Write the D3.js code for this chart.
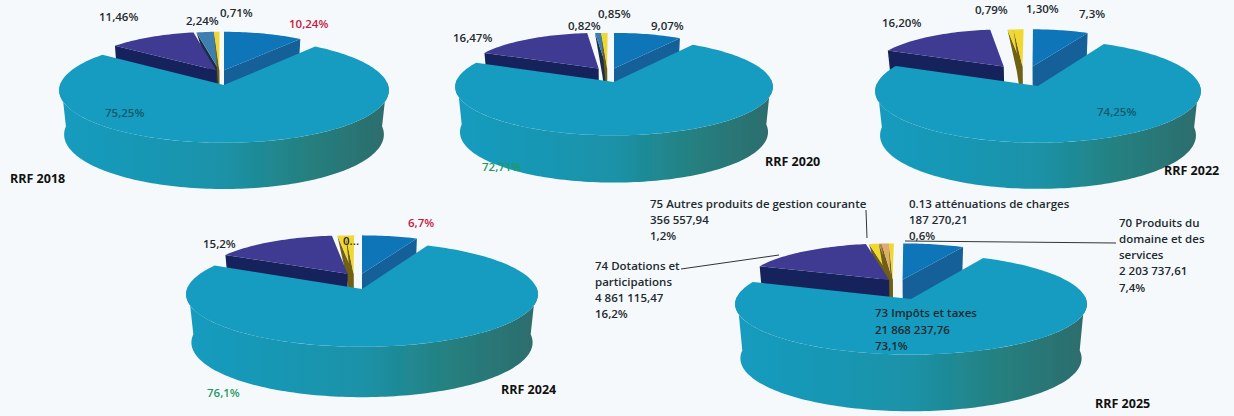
<!DOCTYPE html>
<html><head><meta charset="utf-8">
<script src="https://cdn.jsdelivr.net/npm/d3@7"></script>
<style>
html,body{margin:0;padding:0;background:#f6f9fb}
svg{display:block}
text{font-family:"Open Sans","Noto Sans",sans-serif;font-size:11.5px;font-weight:600;fill:#1d2a30}
.name{font-weight:700;font-size:12.5px;fill:#111}
</style></head><body>
<svg id="c" width="1234" height="416"></svg>
<script>
const years = ["RRF 2018","RRF 2020","RRF 2022","RRF 2024","RRF 2025"];
const values2018 = [10.24,75.25,11.46,2.24,0.71];
const values2020 = [9.07,72.71,16.47,0.82,0.85];
const values2022 = [7.3,74.25,16.20,0.79,1.30];
const values2024 = [6.7,76.1,15.2,1.0,1.0];
const values2025 = [7.4,73.1,16.2,1.2,0.3,0.9,0.6];
const colors2018 = ["blue","main","purple","steel","yellow"];
const colors2020 = ["blue","main","purple","steel","yellow"];
const colors2022 = ["blue","main","purple","yellow","yellow"];
const colors2024 = ["blue","main","purple","yellow","yellow"];
const colors2025 = ["blue","main","purple","yellow","rose","tan","yellow"];
const labels2018 = ["10,24%","75,25%","11,46%","2,24%","0,71%"];
const labels2020 = ["9,07%","72,71%","16,47%","0,82%","0,85%"];
const labels2022 = ["7,3%","74,25%","16,20%","0,79%","1,30%"];
const labels2024 = ["6,7%","76,1%","15,2%","0..."];
const palette = {
  blue:["#0f74b8","#13609a"], main:["#189cc0","#189cc0"], purple:["#3f3a92","#14225c"],
  steel:["#3d80b0","#1b2f45"], yellow:["#f0d733","#6f6116"], rose:["#b9806f","#6f6116"], tan:["#dcae6a","#6f6116"]
};
const pies = [
 {name:0,v:values2018,c:colors2018,cx:224,cy:85,rx:164,ry:52,d:44,ev:.29,eb:0,ep:-.05,er:-.03,nx:10,ny:183},
 {name:1,v:values2020,c:colors2020,cx:614,cy:82,rx:158,ry:48,d:45,ev:.29,eb:0,ep:-.1,er:-.045,nx:765,ny:166},
 {name:2,v:values2022,c:colors2022,cx:1038,cy:86,rx:162,ry:51,d:44,ev:.4,eb:-.035,ep:-.22,er:-.1,nx:1164,ny:175},
 {name:3,v:values2024,c:colors2024,cx:362,cy:289,rx:175,ry:52,d:48,ev:.3,eb:0,ep:-.085,er:-.05,nx:501,ny:394},
 {name:4,v:values2025,c:colors2025,cx:911,cy:299,rx:175,ry:50,d:54,ev:.4,eb:-.05,ep:-.13,er:-.11,nx:1095,ny:408}
];
const persp = .1, shrink = .85;
const svg = d3.select("#c");
const defs = svg.append("defs");
defs.append("filter").attr("id","soft").append("feGaussianBlur").attr("stdDeviation",.5);
const pieGen = d3.pie().value(d=>d).sort(null);
const line = d3.line();

pies.forEach((P,i)=>{
  const grad = defs.append("linearGradient").attr("id","wall"+i);
  [[0,"#189cc0"],[.5,"#1a92a8"],[.75,"#25807f"],[1,"#2e6c6c"]].forEach(s=>
    grad.append("stop").attr("offset",s[0]).attr("stop-color",s[1]));
  const project = (a,r,z,off)=>{
    const u = r*Math.sin(a)+off[0], v = -r*Math.cos(a)+off[1];
    const s = 1/(1-persp*v), t = 1-0.03*z;
    return [P.cx+P.rx*u*s*t, P.cy+P.ry*v*s+P.d*z*(1+0.05*v)];
  };
  const arcPts = (a0,a1,r,z,off)=>{
    const n = Math.max(2,Math.ceil(Math.abs(a1-a0)*40));
    return d3.range(n+1).map(k=>project(a0+(a1-a0)*k/n,r,z,off));
  };
  const g = svg.append("g").attr("filter","url(#soft)");
  const slices = pieGen(P.v).map((s,k)=>({...s,color:P.c[k],k}));
  const big = slices[1];
  const drawSlice = s=>{
    const isBig = s===big;
    const off = isBig ? [0,0] : [s.k===0?P.eb:s.k===2?P.ep:P.er, -P.ev];
    const r = isBig ? 1 : shrink;
    const col = palette[s.color];
    const ap0 = project(0,0,0,off), ap1 = project(0,0,1,off);
    if(isBig){
      const lo=Math.max(s.startAngle,Math.PI/2-0.05), hi=Math.min(s.endAngle,3*Math.PI/2+0.05);
      const top=arcPts(lo,hi,1,0,off), bot=arcPts(hi,lo,1,1,off);
      g.append("path").attr("d",line(top.concat(bot))+"Z").attr("fill",`url(#wall${i})`);
    } else {
      const facing = s.k===0 ? s.endAngle : s.startAngle;
      const c0=project(facing,r,0,off), c1=project(facing,r,1,off);
      if(s.k>2) c1[0]=c0[0]+.6*(ap1[0]-c0[0]);
      g.append("path").attr("d",line([ap0,c0,c1,ap1])+"Z").attr("fill",col[1]);
    }
    const top=arcPts(s.startAngle,s.endAngle,r,0,off);
    g.append("path").attr("d",line([ap0].concat(top))+"Z").attr("fill",col[0]);
  };
  drawSlice(slices[0]);
  slices.filter(s=>s.k>2).forEach(drawSlice);
  drawSlice(slices[2]);
  drawSlice(big);
  svg.append("text").attr("class","name").attr("x",P.nx).attr("y",P.ny).text(years[P.name]);
});

const put=(x,y,t,fill)=>{const e=svg.append("text").attr("x",x).attr("y",y).text(t);if(fill)e.style("fill",fill);};
const red="#c8173f", green="#1f9a63", teal="#105a6a";
put(99,21,labels2018[2]);put(186,25,labels2018[3]);put(220,17,labels2018[4]);put(289,28,labels2018[0],red);put(105,117,labels2018[1],teal);
put(453,42,labels2020[2]);put(568,30,labels2020[3]);put(598,18,labels2020[4]);put(651,30,labels2020[0]);put(482,171,labels2020[1],green);
put(882,27,labels2022[2]);put(975,14,labels2022[3]);put(1026,13,labels2022[4]);put(1079,18,labels2022[0]);put(1097,116,labels2022[1],teal);
put(203,248,labels2024[2]);put(343,245,labels2024[3]);put(408,227,labels2024[0],red);put(207,397,labels2024[1],green);
const block=(x,ys,lines)=>lines.forEach((t,k)=>put(x,ys[k],t));
block(650,[208,224,240],["75 Autres produits de gestion courante","356 557,94","1,2%"]);
block(909,[208,224,240],["0.13 atténuations de charges","187 270,21","0,6%"]);
block(1119,[227,243,259,275,292],["70 Produits du","domaine et des","services","2 203 737,61","7,4%"]);
block(595,[270,286,302,318],["74 Dotations et","participations","4 861 115,47","16,2%"]);
block(875,[317,334,350],["73 Impôts et taxes","21 868 237,76","73,1%"]);
const leader=[[[866,210],[867,238]],[[905,241],[1116,243]],[[681,269],[779,255]]];
leader.forEach(l=>svg.append("path").attr("d",line(l)).attr("fill","none").attr("stroke","#333").attr("stroke-width",1));
</script>
</body></html>
